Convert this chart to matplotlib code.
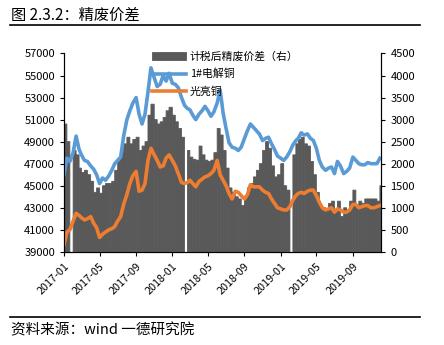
import numpy as np
import pandas as pd
import matplotlib
matplotlib.use("Agg")
import matplotlib.pyplot as plt
import matplotlib.dates as mdates

plt.rcParams['font.family'] = ['Noto Sans CJK SC', 'DejaVu Sans']

# sampling dates: 1st, 11th, 21st of each month
dates = pd.to_datetime([f"{y}-{m:02d}-{d:02d}" for y in (2017, 2018, 2019)
                        for m in range(1, 13) for d in (1, 11, 21)])
dates = dates[dates <= "2019-12-01"]

# 1#电解铜 (left axis)
cu1 = [46000, 47500, 47200, 48000, 49500, 48300, 47800, 47300, 47200,
       46800, 46500, 46000, 45200, 45700, 45500, 45900, 46400, 47000,
       47300, 47600, 49500, 51000, 51800, 52500, 53000, 51500, 50600,
       51500, 53500, 55700, 54800, 54000, 54200, 55000, 54500, 55200,
       54300, 54200, 53900, 53000, 52300, 52000, 51900, 51400, 51000,
       51500, 51800, 52200, 51800, 51300, 51700, 52500, 53700, 51600,
       50200, 48900, 48500, 48400, 48200, 48500, 49300, 50000, 50600,
       50300, 50000, 49700, 49100, 49300, 49400, 48800, 48300, 47700,
       47500, 47300, 47600, 48100, 48700, 49100, 49300, 49800, 49600,
       49700, 49300, 49100, 48400, 47300, 46700, 46400, 46600, 46700,
       46100, 47200, 46800, 46100, 46300, 46600, 47600, 47300, 47000,
       46900, 46900, 47100, 47000, 47000, 47000, 47500]

# 光亮铜 (left axis)
bright = [39600, 40800, 41000, 41800, 42500, 42300, 42100, 41900, 42000,
          42200, 41600, 41200, 40300, 40600, 40800, 41000, 41100, 41300,
          41800, 42200, 43300, 44200, 45200, 45900, 46300, 44500, 44600,
          45200, 47300, 48400, 47800, 47300, 46700, 46800, 47500, 47800,
          47300, 46800, 46100, 45300, 45200, 45300, 45500, 45200, 44900,
          45400, 45600, 45800, 45900, 46100, 46400, 47300, 46000, 45500,
          45000, 44300, 43800, 44500, 44400, 44100, 43800, 44200, 45100,
          44900, 44900, 44900, 44600, 44400, 44300, 43800, 43400, 43000,
          42900, 42800, 42800, 43100, 43700, 44100, 44300, 44400, 44300,
          44500, 44600, 44600, 44100, 43500, 43000, 42800, 42900, 43000,
          42600, 42900, 42800, 42600, 42600, 42800, 43300, 43300, 43000,
          43100, 43200, 43200, 43000, 43000, 43100, 43200]

# 计税后精废价差 (right axis), NaN = holiday gap
spread = [2900, 2500, np.nan, 2300, 2200, 1900, 1800, 1850, 1750,
          1600, 1350, 1450, 1330, 1500, 1550, 1550, 1600, 1850,
          2100, 2250, 2450, 2600, 2450, 2550, 2600, 2300, 2400,
          2500, 3100, 3350, 3000, 2900, 2950, 3050, 3200, 3280,
          3100, 2950, 2800, 2600, np.nan, 2300, 2150, 2100, 2080,
          2400, 2200, 2080, 2050, 2080, 2250, 2800, 2650, 2300,
          1900, 1450, 1350, 1250, 1200, 1050, 1250, 1450, 1550,
          1700, 1850, 2000, 2300, 2500, 2350, 1950, 1700, 1750,
          2000, 1500, 1400, np.nan, 2200, 2450, 2550, 2600, 2450,
          2400, 2050, 1750, 1350, 1050, 1000, 950, 1100, 1150,
          900, 1150, 800, 1000, 950, 1150, 1400, 1050, 1150,
          1100, 1200, 1200, 1200, 1200, 1150, 1500]

fig = plt.figure(figsize=(4.44, 3.45), dpi=100)
ax = fig.add_axes([0.144, 0.270, 0.715, 0.575])
ax2 = ax.twinx()

# each bar spans until the next sample date
widths = np.append(np.diff(dates).astype('timedelta64[D]').astype(float), 10)
bars = ax2.bar(dates, spread, width=widths, align='edge', color='#595959',
               edgecolor='#595959', linewidth=0.6, snap=False)
l1, = ax.plot(dates, cu1, color='#5b9bd5', lw=2.6)
l2, = ax.plot(dates, bright, color='#ed7d31', lw=2.6)

ax.set_zorder(ax2.get_zorder() + 1)
ax.patch.set_visible(False)

ax.set_ylim(39000, 57000)
ax.set_yticks(np.arange(39000, 57001, 2000))
ax2.set_ylim(0, 4500)
ax2.set_yticks(np.arange(0, 4501, 500))
ax.set_xlim(pd.Timestamp("2017-01-01"), pd.Timestamp("2019-12-06"))

ax.xaxis.set_major_locator(mdates.MonthLocator(bymonth=[1, 5, 9]))
ax.xaxis.set_major_formatter(mdates.DateFormatter('%Y-%m'))

for a in (ax, ax2):
    a.spines['top'].set_visible(False)
    a.tick_params(labelsize=8, length=3, width=0.8)
ax.tick_params(axis='x', labelsize=7.8)
for lab in ax.get_xticklabels():
    lab.set_rotation(45)
    lab.set_ha('right')
    lab.set_rotation_mode('anchor')

fig.legend([bars, l1, l2], ['计税后精废价差（右）', '1#电解铜', '光亮铜'],
           loc='upper left', bbox_to_anchor=(0.32, 0.88), frameon=False,
           fontsize=7.8, handlelength=3.2, handletextpad=0.3,
           labelspacing=0.65)

fig.text(0.025, 0.955, '图 2.3.2：精废价差', fontsize=11, va='center')
fig.add_artist(plt.Line2D([0.022, 0.947], [0.928, 0.928], color='black', lw=1.2))
fig.add_artist(plt.Line2D([0.022, 0.947], [0.082, 0.082], color='black', lw=1.2))
fig.text(0.025, 0.043, '资料来源：wind 一德研究院', fontsize=10.5, va='center')

fig.savefig('out.png', dpi=100)
